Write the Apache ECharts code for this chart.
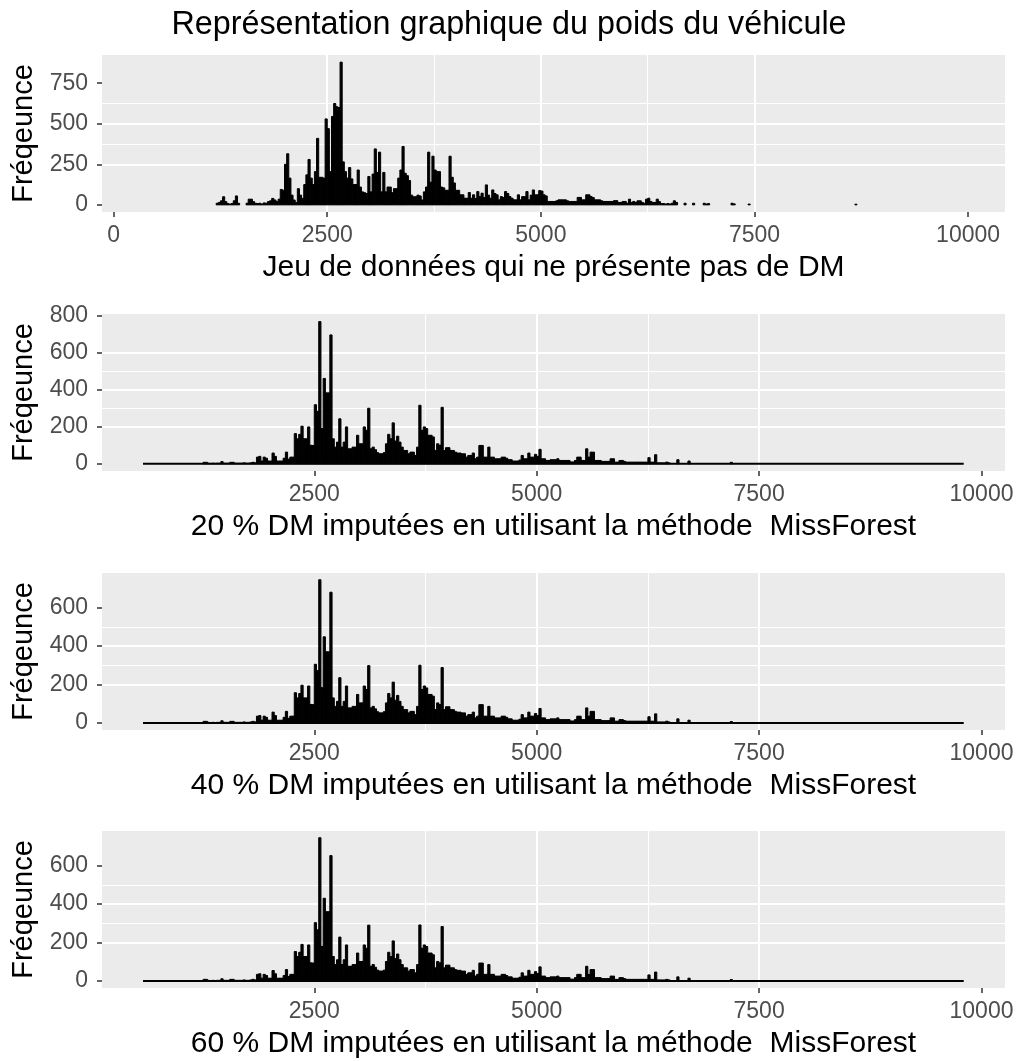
<!DOCTYPE html>
<html>
<head>
<meta charset="utf-8">
<title>Poids du véhicule</title>
<script src="https://cdn.jsdelivr.net/npm/echarts@6/dist/echarts.min.js"></script>
<style>
  html, body { margin: 0; padding: 0; background: #fff; }
  #chart { width: 1018px; height: 1061px; }
</style>
</head>
<body>
<div id="chart"></div>
<script>
// histogram bins: width 25 (kg), counts
const binWidth = 25;

// panel 1 : complete data set, bins from 1200
const p1Start = 1200;
const p1Counts = [
  10, 15, 25, 50, 20, 8, 5, 8, 25, 55, 10, 0, 0, 0, 10, 35, 35, 20, 10, 8,            // 1200
  10, 5, 12, 10, 20, 25, 40, 30, 20, 35, 95, 90, 250, 315, 165, 60, 30, 15, 100, 60,   // 1700
  40, 125, 185, 280, 165, 125, 205, 410, 170, 170, 165, 530, 470, 205, 545, 625, 605, 600, 880, 265, // 2200
  205, 165, 230, 160, 125, 125, 215, 110, 80, 75, 70, 175, 80, 190, 345, 200, 325, 80, 200, 80,      // 2700
  110, 110, 75, 100, 100, 165, 215, 360, 195, 180, 150, 60, 50, 50, 60, 55, 30, 80, 110, 325,        // 3200
  140, 300, 215, 205, 205, 110, 105, 90, 90, 300, 170, 135, 90, 90, 62, 62, 41, 41, 76, 41,          // 3700
  62, 40, 82, 51, 72, 45, 123, 60, 41, 92, 70, 62, 31, 51, 45, 82, 70, 51, 41, 31,   // 4200
  31, 62, 31, 51, 51, 82, 31, 60, 92, 62, 62, 88, 85, 62, 55, 21, 21, 21, 21, 25,    // 4700
  31, 31, 31, 31, 25, 21, 21, 21, 21, 46, 46, 31, 31, 62, 62, 51, 45, 31, 31, 31,    // 5200
  25, 21, 21, 21, 21, 21, 26, 26, 15, 15, 21, 21, 10, 35, 15, 21, 15, 25, 25, 15,    // 5700
  10, 35, 41, 21, 15, 15, 35, 20, 8, 8, 5, 8, 5, 10, 25, 15, 0, 0, 0, 10,            // 6200
  0, 0, 0, 10, 0, 0, 0, 0, 10, 5, 8, 0                                                // 6700
];
const p1Isolated = [[7225, 10], [7250, 6], [7425, 5], [8675, 4]];

// panel 2 : 20 % missing values imputed, bins from 1250
const p2Start = 1250;
const p2Counts = [
  8, 8, 3, 2, 3, 2, 3, 3, 12, 3, 3, 3, 8, 8, 3, 3, 3, 3, 5, 3,                        // 1250
  3, 5, 8, 5, 36, 40, 15, 36, 30, 15, 15, 58, 40, 15, 15, 15, 30, 63, 25, 36,         // 1750
  36, 163, 135, 159, 203, 135, 135, 199, 100, 99, 319, 283, 768, 190, 461, 383, 383, 696, 135, 90, // 2250
  117, 243, 90, 117, 199, 81, 81, 90, 90, 154, 108, 108, 199, 181, 300, 81, 90, 76, 60, 54,       // 2750
  54, 60, 108, 159, 135, 221, 123, 149, 117, 90, 72, 72, 54, 63, 63, 45, 90, 316, 181, 199,       // 3250
  190, 154, 154, 145, 72, 108, 100, 305, 72, 87, 87, 72, 72, 63, 58, 58, 54, 54, 36, 45,          // 3750
  45, 58, 27, 36, 99, 99, 36, 36, 90, 36, 36, 27, 27, 27, 36, 36, 30, 22, 22, 15,     // 4250
  15, 15, 20, 45, 27, 27, 58, 36, 36, 51, 40, 78, 27, 27, 18, 18, 22, 22, 22, 27,     // 4750
  18, 18, 18, 18, 18, 10, 10, 18, 36, 36, 18, 18, 81, 36, 63, 63, 18, 18, 18, 13,     // 5250
  13, 13, 13, 27, 27, 9, 9, 18, 18, 13, 9, 9, 9, 9, 9, 9, 9, 9, 9, 9,                // 5750
  33, 9, 9, 49, 5, 5, 5, 5, 9, 5, 0, 0, 0, 22, 0, 0, 0, 0, 15, 0                      // 6250
];
const p2Isolated = [[7175, 8]];

// panel 3 : 40 % imputed
const p3Start = 1250;
const p3Counts = [
  8, 8, 3, 2, 3, 2, 3, 3, 11, 3, 3, 3, 8, 8, 3, 3, 3, 3, 5, 3,
  3, 5, 8, 5, 35, 38, 14, 35, 29, 14, 14, 56, 38, 14, 14, 14, 29, 60, 24, 35,
  35, 157, 130, 153, 196, 130, 130, 192, 96, 95, 305, 272, 745, 183, 448, 370, 370, 680, 130, 86,
  112, 235, 86, 112, 192, 78, 78, 86, 86, 148, 104, 104, 192, 174, 298, 78, 86, 73, 58, 52,
  52, 58, 104, 153, 130, 212, 118, 143, 112, 86, 69, 69, 52, 60, 60, 43, 86, 300, 174, 192,
  182, 148, 148, 139, 69, 104, 96, 288, 69, 84, 84, 69, 69, 60, 56, 56, 52, 52, 35, 43,
  43, 56, 26, 35, 95, 95, 35, 35, 86, 35, 35, 26, 26, 26, 35, 35, 29, 21, 21, 14,
  14, 14, 19, 43, 26, 26, 56, 35, 35, 49, 38, 75, 26, 26, 17, 17, 21, 21, 21, 26,
  17, 17, 17, 17, 17, 10, 10, 17, 35, 35, 17, 17, 78, 35, 60, 60, 17, 17, 17, 12,
  12, 12, 12, 26, 26, 9, 9, 17, 17, 12, 9, 9, 9, 9, 9, 9, 9, 9, 9, 9,
  32, 9, 9, 47, 5, 5, 5, 5, 9, 5, 0, 0, 0, 21, 0, 0, 0, 0, 14, 0
];
const p3Isolated = [[7175, 7]];

// panel 4 : 60 % imputed
const p4Start = 1250;
const p4Counts = [
  8, 8, 3, 2, 3, 2, 3, 3, 11, 3, 3, 3, 8, 8, 3, 3, 3, 3, 5, 3,
  3, 5, 8, 5, 34, 37, 14, 34, 28, 14, 14, 54, 37, 14, 14, 14, 28, 59, 23, 34,
  34, 153, 127, 149, 190, 127, 127, 187, 94, 93, 303, 266, 745, 179, 430, 360, 360, 652, 127, 85,
  110, 228, 85, 110, 187, 76, 76, 85, 85, 145, 101, 101, 187, 170, 290, 76, 85, 71, 56, 51,
  51, 56, 101, 149, 127, 208, 116, 140, 110, 85, 68, 68, 51, 59, 59, 42, 85, 291, 170, 187,
  179, 145, 145, 136, 68, 101, 94, 283, 68, 82, 82, 68, 68, 59, 55, 55, 51, 51, 34, 42,
  42, 55, 25, 34, 93, 93, 34, 34, 85, 34, 34, 25, 25, 25, 34, 34, 28, 21, 21, 14,
  14, 14, 19, 42, 25, 25, 55, 34, 34, 48, 38, 73, 25, 25, 17, 17, 21, 21, 21, 25,
  17, 17, 17, 17, 17, 9, 9, 17, 34, 34, 17, 17, 76, 34, 59, 59, 17, 17, 17, 12,
  12, 12, 12, 25, 25, 8, 8, 17, 17, 12, 8, 8, 8, 8, 8, 8, 8, 8, 8, 8,
  31, 8, 8, 46, 5, 5, 5, 5, 8, 5, 0, 0, 0, 21, 0, 0, 0, 0, 14, 0
];
const p4Isolated = [[7175, 7]];

// data extent of imputed sets (empty bins drawn as a flat line)
const imputedRange = [575, 9800];

const chartTitle = 'Représentation graphique du poids du véhicule';
const yName = 'Fréqeunce';
const panelNames = [
  'Jeu de données qui ne présente pas de DM',
  '20 % DM imputées en utilisant la méthode  MissForest',
  '40 % DM imputées en utilisant la méthode  MissForest',
  '60 % DM imputées en utilisant la méthode  MissForest'
];
const xRanges = [[-136, 10432], [114, 10264], [114, 10264], [114, 10264]];
const yRanges = [[-44, 924], [-39, 809], [-37, 780], [-37, 780]];
const xTicks = [[0, 2500, 5000, 7500, 10000], [2500, 5000, 7500, 10000], [2500, 5000, 7500, 10000], [2500, 5000, 7500, 10000]];
const xMinorTicks = [[1250, 3750, 6250, 8750], [1250, 3750, 6250, 8750], [1250, 3750, 6250, 8750], [1250, 3750, 6250, 8750]];
const yTicks = [[0, 250, 500, 750], [0, 200, 400, 600, 800], [0, 200, 400, 600], [0, 200, 400, 600]];
const yMinorTicks = [[125, 375, 625, 875], [100, 300, 500, 700], [100, 300, 500, 700], [100, 300, 500, 700]];

const panels = [
  { start: p1Start, counts: p1Counts, isolated: p1Isolated, zeroLine: null },
  { start: p2Start, counts: p2Counts, isolated: p2Isolated, zeroLine: imputedRange },
  { start: p3Start, counts: p3Counts, isolated: p3Isolated, zeroLine: imputedRange },
  { start: p4Start, counts: p4Counts, isolated: p4Isolated, zeroLine: imputedRange }
];

function toBins(start, counts, isolated) {
  const bins = [];
  counts.forEach((c, i) => {
    if (c > 0) bins.push([start + i * binWidth, start + (i + 1) * binWidth, c]);
  });
  isolated.forEach(([x, c]) => bins.push([x, x + binWidth, c]));
  return bins;
}

function histItem(params, api) {
  const top = api.coord([api.value(0), api.value(2)]);
  const base = api.coord([api.value(1), 0]);
  return {
    type: 'rect',
    shape: { x: top[0], y: top[1], width: base[0] - top[0], height: base[1] - top[1] },
    style: { fill: '#000', stroke: '#000', lineWidth: 1 }
  };
}

const FONT = '"Liberation Sans", Arial, sans-serif';
const GRID_TOPS = [55, 314, 573, 831];
const fmt = v => String(v);

const grids = [], xAxes = [], yAxes = [], series = [];

panels.forEach((p, i) => {
  grids.push({
    left: 102, top: GRID_TOPS[i], width: 903, height: 157,
    show: true, backgroundColor: '#EBEBEB', borderWidth: 0,
    containLabel: false, outerBoundsMode: 'none'
  });
  const xStep = xTicks[i][1] - xTicks[i][0];
  const yStep = yTicks[i][1] - yTicks[i][0];

  // main x axis: ticks, labels, major grid
  xAxes.push({
    type: 'value', gridIndex: i, position: 'bottom',
    min: xRanges[i][0], max: xRanges[i][1],
    minInterval: xStep, maxInterval: xStep,
    name: panelNames[i], nameLocation: 'middle', nameGap: 41,
    nameTextStyle: { fontSize: 30, color: '#000', fontFamily: FONT },
    axisLine: { show: false, onZero: false },
    axisTick: { show: true, length: 5, customValues: xTicks[i], lineStyle: { color: '#333', width: 1.5 } },
    axisLabel: { customValues: xTicks[i], formatter: fmt, fontSize: 23, color: '#4D4D4D', margin: 12, fontFamily: FONT },
    splitLine: { show: true, showMinLine: false, showMaxLine: false, lineStyle: { color: '#fff', width: 2 } }
  });
  // helper x axis: minor grid only
  xAxes.push({
    type: 'value', gridIndex: i, position: 'top',
    min: xRanges[i][0], max: xRanges[i][1],
    minInterval: xStep / 2, maxInterval: xStep / 2,
    axisLine: { show: false, onZero: false },
    axisTick: { show: false, customValues: xMinorTicks[i] },
    axisLabel: { show: false },
    splitLine: { show: true, showMinLine: false, showMaxLine: false, lineStyle: { color: '#fff', width: 1.1 } }
  });
  yAxes.push({
    type: 'value', gridIndex: i, position: 'left',
    min: yRanges[i][0], max: yRanges[i][1],
    minInterval: yStep, maxInterval: yStep,
    name: yName, nameLocation: 'middle', nameGap: 62,
    nameTextStyle: { fontSize: 29, color: '#000', fontFamily: FONT },
    axisLine: { show: false, onZero: false },
    axisTick: { show: true, length: 5, customValues: yTicks[i], lineStyle: { color: '#333', width: 1.5 } },
    axisLabel: { customValues: yTicks[i], formatter: fmt, fontSize: 23, color: '#4D4D4D', margin: 14, fontFamily: FONT },
    splitLine: { show: true, showMinLine: false, showMaxLine: false, lineStyle: { color: '#fff', width: 2 } }
  });
  yAxes.push({
    type: 'value', gridIndex: i, position: 'right',
    min: yRanges[i][0], max: yRanges[i][1],
    minInterval: yStep / 2, maxInterval: yStep / 2,
    axisLine: { show: false, onZero: false },
    axisTick: { show: false, customValues: yMinorTicks[i] },
    axisLabel: { show: false },
    splitLine: { show: true, showMinLine: false, showMaxLine: false, lineStyle: { color: '#fff', width: 1.1 } }
  });

  if (p.zeroLine) {
    series.push({
      type: 'line', xAxisIndex: 2 * i, yAxisIndex: 2 * i,
      data: [[p.zeroLine[0], 0], [p.zeroLine[1], 0]],
      symbol: 'none', silent: true, animation: false,
      lineStyle: { color: '#000', width: 2 }, z: 3
    });
  }
  series.push({
    type: 'custom', xAxisIndex: 2 * i, yAxisIndex: 2 * i,
    renderItem: histItem, clip: true, animation: false,
    encode: { x: [0, 1], y: 2 },
    data: toBins(p.start, p.counts, p.isolated), z: 4
  });
});

const chart = echarts.init(document.getElementById('chart'), null, { renderer: 'canvas' });
chart.setOption({
  animation: false,
  backgroundColor: '#fff',
  textStyle: { fontFamily: FONT },
  title: {
    text: chartTitle, left: 'center', top: 4,
    textStyle: { fontSize: 32.3, fontWeight: 'normal', color: '#000', fontFamily: FONT }
  },
  grid: grids,
  xAxis: xAxes,
  yAxis: yAxes,
  series: series
});
</script>
</body>
</html>
